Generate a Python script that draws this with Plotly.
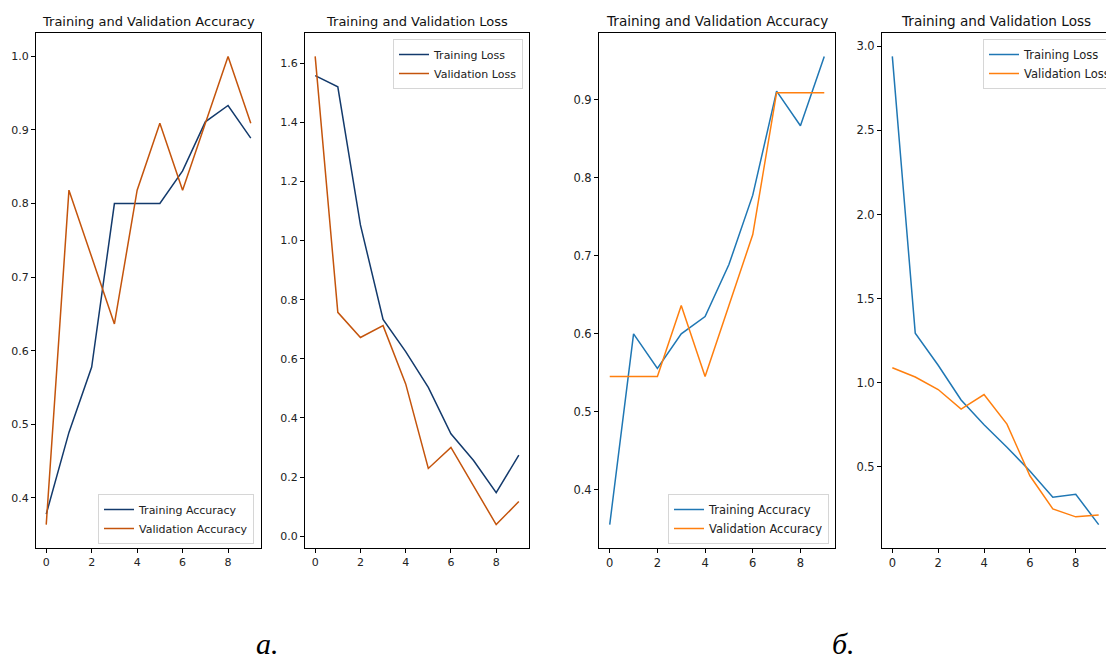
import plotly.graph_objects as go

# ---------------- data ----------------
epochs = list(range(10))

# (а) first model
acc_train_a = [0.3778, 0.4889, 0.5778, 0.8000, 0.8000, 0.8000, 0.8444, 0.9111, 0.9333, 0.8889]
acc_val_a = [0.3636, 0.8182, 0.7273, 0.6364, 0.8182, 0.9091, 0.8182, 0.9091, 1.0000, 0.9091]
loss_train_a = [1.558, 1.520, 1.053, 0.733, 0.624, 0.503, 0.346, 0.256, 0.147, 0.274]
loss_val_a = [1.623, 0.757, 0.672, 0.712, 0.515, 0.229, 0.300, 0.171, 0.039, 0.117]

# (б) second model
acc_train_b = [0.3556, 0.6000, 0.5556, 0.6000, 0.6222, 0.6889, 0.7778, 0.9111, 0.8667, 0.9556]
acc_val_b = [0.5455, 0.5455, 0.5455, 0.6364, 0.5455, 0.6364, 0.7273, 0.9091, 0.9091, 0.9091]
loss_train_b = [2.940, 1.295, 1.104, 0.898, 0.750, 0.617, 0.475, 0.320, 0.337, 0.157]
loss_val_b = [1.089, 1.034, 0.960, 0.843, 0.930, 0.754, 0.447, 0.250, 0.203, 0.214]

titles = ["Training and Validation Accuracy", "Training and Validation Loss",
          "Training and Validation Accuracy", "Training and Validation Loss"]
captions = ["а.", "б."]

# ---------------- style ----------------
W, H = 1106, 659
NAVY, RUST = "#133a6c", "#c4540c"
BLUE, ORANGE = "#1f77b4", "#ff7f0e"
FONT = "DejaVu Sans"

def px_x(p):
    return p / W

def px_y(p):
    return 1 - p / H

panel_x = [(36, 261), (305, 529), (599, 835), (882, 1106)]
title_cx = [148, 417, 717, 996]
top_px, bot_px = 33, 548

fig = go.Figure()

panels = [
    (acc_train_a, acc_val_a, "Training Accuracy", "Validation Accuracy", NAVY, RUST, 0.1),
    (loss_train_a, loss_val_a, "Training Loss", "Validation Loss", NAVY, RUST, 0.2),
    (acc_train_b, acc_val_b, "Training Accuracy", "Validation Accuracy", BLUE, ORANGE, 0.1),
    (loss_train_b, loss_val_b, "Training Loss", "Validation Loss", BLUE, ORANGE, 0.5),
]

legend_pos = [
    dict(x=px_x(254), y=px_y(544), xanchor="right", yanchor="bottom"),
    dict(x=px_x(523), y=px_y(39), xanchor="right", yanchor="top"),
    dict(x=px_x(829), y=px_y(544), xanchor="right", yanchor="bottom"),
    dict(x=px_x(983), y=px_y(39), xanchor="left", yanchor="top"),
]

layout = dict(
    width=W, height=H,
    margin=dict(l=0, r=0, t=0, b=0, autoexpand=False),
    paper_bgcolor="white", plot_bgcolor="white",
    font=dict(family=FONT, size=11, color="#222222"),
    annotations=[],
)

for i, (tr, va, ntr, nva, ctr, cva, dt) in enumerate(panels):
    k = "" if i == 0 else str(i + 1)
    lg = "legend" + k
    fs_tick = 11 if i < 2 else 11.5
    fs_title = 13 if i < 2 else 13.6
    fig.add_trace(go.Scatter(x=epochs, y=tr, mode="lines", name=ntr,
                             line=dict(color=ctr, width=1.5),
                             xaxis="x" + k, yaxis="y" + k, legend=lg))
    fig.add_trace(go.Scatter(x=epochs, y=va, mode="lines", name=nva,
                             line=dict(color=cva, width=1.5),
                             xaxis="x" + k, yaxis="y" + k, legend=lg))
    lo = min(min(tr), min(va))
    hi = max(max(tr), max(va))
    m = 0.05 * (hi - lo)
    x0, x1 = panel_x[i]
    xr = [-0.45, 9.45]
    if i == 3:
        # right edge of the last panel is cut by the image border
        xr = [-0.45, -0.45 + 9.9 * (x1 - x0) / 227.0]
    layout["xaxis" + k] = dict(
        domain=[px_x(x0), px_x(x1)], anchor="y" + k, range=xr,
        tickmode="linear", tick0=0, dtick=2,
        showline=True, linecolor="black", linewidth=1, mirror=True,
        ticks="outside", ticklen=4, tickcolor="black",
        showgrid=False, zeroline=False, tickfont=dict(size=fs_tick),
    )
    layout["yaxis" + k] = dict(
        domain=[px_y(bot_px), px_y(top_px)], anchor="x" + k,
        range=[lo - m, hi + m],
        tickmode="linear", tick0=0, dtick=dt, tickformat=".1f",
        showline=True, linecolor="black", linewidth=1, mirror=(i != 3),
        ticks="outside", ticklen=4, tickcolor="black",
        showgrid=False, zeroline=False, tickfont=dict(size=fs_tick),
    )
    layout[lg] = dict(
        **legend_pos[i],
        bgcolor="rgba(255,255,255,0.85)", bordercolor="#d6d6d6", borderwidth=1,
        font=dict(family=FONT, size=fs_tick, color="#222222"),
        itemwidth=30, tracegroupgap=0,
    )
    layout["annotations"].append(dict(
        text=titles[i], xref="paper", yref="paper",
        x=px_x(title_cx[i]), y=px_y(31), xanchor="center", yanchor="bottom",
        showarrow=False, font=dict(family=FONT, size=fs_title, color="#111111"),
    ))

for cap, cx in zip(captions, [267, 843]):
    layout["annotations"].append(dict(
        text="<i>" + cap + "</i>", xref="paper", yref="paper", x=px_x(cx), y=px_y(643),
        xanchor="center", yanchor="middle", showarrow=False,
        font=dict(family="Liberation Serif", size=30, color="black"),
    ))

fig.update_layout(**layout)

fig.write_html(
    "out.html",
    config={"displayModeBar": False},
    post_script="document.body.style.margin='0';document.body.style.overflow='hidden';",
)
